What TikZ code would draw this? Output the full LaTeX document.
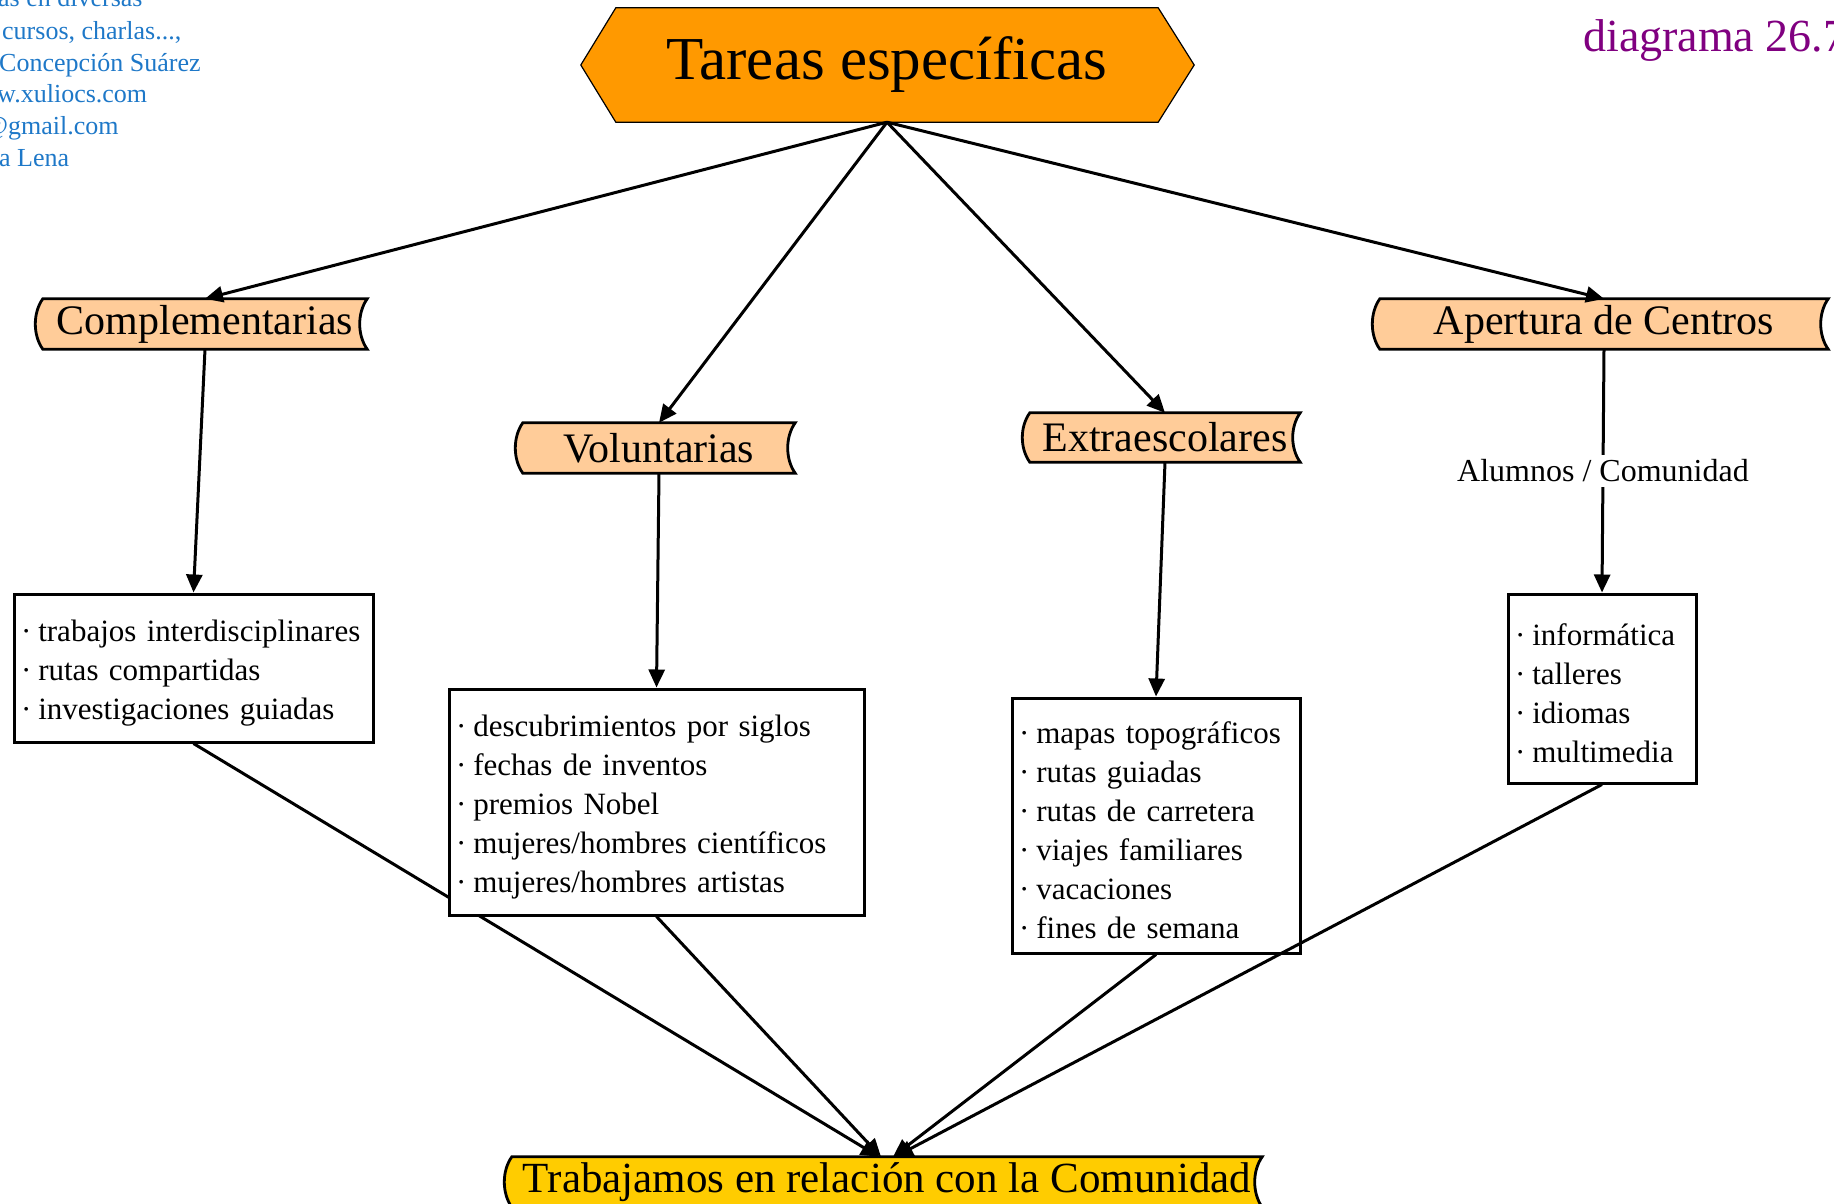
\documentclass[tikz,border=0pt]{standalone}
\usepackage{fontspec}
\setmainfont{Liberation Serif}
\usetikzlibrary{arrows.meta,calc}
\pgfdeclarelayer{background}
\pgfsetlayers{background,main}
\definecolor{titleor}{RGB}{255,153,0}
\definecolor{peach}{RGB}{255,204,153}
\definecolor{gold}{RGB}{255,204,0}
\definecolor{bluetxt}{RGB}{30,120,200}
\definecolor{purp}{RGB}{128,0,128}
\newcommand{\scrollpath}[2]{\path[draw=black, line width=2.8pt, fill=#2] (#1.north west) -- (#1.north east) .. controls +(-10,14) and +(-10,-14) .. (#1.south east) -- (#1.south west) .. controls +(-10,-14) and +(-10,14) .. (#1.north west) -- cycle;}
\newcommand{\itm}[1]{\mbox{·\hspace{7pt}#1}}
\newcommand{\firstitm}[1]{\mbox{\rule{0pt}{32pt}·\hspace{7pt}#1}}
\begin{document}
\begin{tikzpicture}[x=1pt,y=-1pt,
  arr/.style={line width=3pt,-{Triangle[length=18pt,width=16pt]}},
  lbl/.style={inner sep=0pt, font=\fontsize{42}{48}\selectfont, minimum height=50pt},
  itembox/.style={draw, line width=3pt, fill=white, align=left, inner xsep=7pt, inner ysep=0pt, font=\fontsize{31}{39}\selectfont},
  bluet/.style={anchor=base west, inner sep=0pt, text=bluetxt, font=\fontsize{26}{30}\selectfont},
]
\useasboundingbox (0,0) rectangle (1834,1204);

% title
\node[inner sep=0pt, minimum width=542pt, minimum height=114pt, font=\fontsize{61}{70}\selectfont] (title) at (887,65) {Tareas específicas};

% scroll labels
\node[lbl, minimum width=324pt] (comp) at (205,324) {Complementarias};
\node[lbl, minimum width=272pt] (vol) at (659,448) {Voluntarias};
\node[lbl, minimum width=270pt, minimum height=49pt] (extra) at (1165,437.5) {Extraescolares};
\node[lbl, minimum width=448pt] (apC) at (1604,324) {Apertura de Centros};
\node[lbl, minimum width=750pt, font=\fontsize{43}{50}\selectfont] (bot) at (887,1182) {Trabajamos en relación con la Comunidad};

% item boxes
\node[itembox, text width=345pt, minimum height=148pt] (b1) at (193.5,668)
 {\firstitm{trabajos interdisciplinares}\\\itm{rutas compartidas}\\\itm{investigaciones guiadas}};
\node[itembox, text width=401pt, minimum height=226pt] (b2) at (656.5,802)
 {\firstitm{descubrimientos por siglos}\\\itm{fechas de inventos}\\\itm{premios Nobel}\\\itm{mujeres/hombres científicos}\\\itm{mujeres/hombres artistas}};
\node[itembox, text width=274pt, minimum height=255pt] (b3) at (1156,825.5)
 {\firstitm{mapas topográficos}\\\itm{rutas guiadas}\\\itm{rutas de carretera}\\\itm{viajes familiares}\\\itm{vacaciones}\\\itm{fines de semana}};
\node[itembox, text width=174pt, minimum height=189pt] (b4) at (1602,688.5)
 {\firstitm{informática}\\\itm{talleres}\\\itm{idiomas}\\\itm{multimedia}};

% shapes behind
\begin{pgfonlayer}{background}
\path[draw=black, line width=1.2pt, fill=titleor] (title.north west) -- (title.north east) -- ($(title.east)+(36,0)$) -- (title.south east) -- (title.south west) -- ($(title.west)+(-35,0)$) -- cycle;
\scrollpath{comp}{peach}
\scrollpath{vol}{peach}
\scrollpath{extra}{peach}
\scrollpath{apC}{peach}
\scrollpath{bot}{gold}
\draw[arr] (b1.south) -- ([xshift=-8pt]bot.north);
\end{pgfonlayer}

% connectors
\draw[arr] (title.south) -- (comp.north);
\draw[arr] (title.south) -- (vol.north);
\draw[arr] (title.south) -- (extra.north);
\draw[arr] (title.south) -- (apC.north);
\draw[arr] (comp.south) -- (b1.north);
\draw[arr] (vol.south) -- (b2.north);
\draw[arr] (extra.south) -- (b3.north);
\draw[arr] (apC.south) -- node[fill=white, inner xsep=2pt, inner ysep=5pt, font=\fontsize{32}{36}\selectfont] (alum) {Alumnos / Comunidad} (b4.north);
\draw[arr] (b2.south) -- ([xshift=-6pt]bot.north);
\draw[arr] (b3.south) -- ([xshift=6pt]bot.north);
\draw[arr] (b4.south) -- ([xshift=8pt]bot.north);

% corner texts
\node[bluet] (t1) at (-2,7) {as en diversas};
\node[bluet] (t2) at (2,40) {cursos, charlas...,};
\node[bluet] (t3) at (-1,72) {Concepción Suárez};
\node[bluet] (t4) at (-3,103) {w.xuliocs.com};
\node[bluet] (t5) at (-16,135) {@gmail.com};
\node[bluet] (t6) at (-1,167) {a Lena};
\node[anchor=base west, inner sep=0pt, text=purp, font=\fontsize{46}{50}\selectfont] (diag) at (1583,52) {diagrama 26.7};
\end{tikzpicture}
\end{document}
